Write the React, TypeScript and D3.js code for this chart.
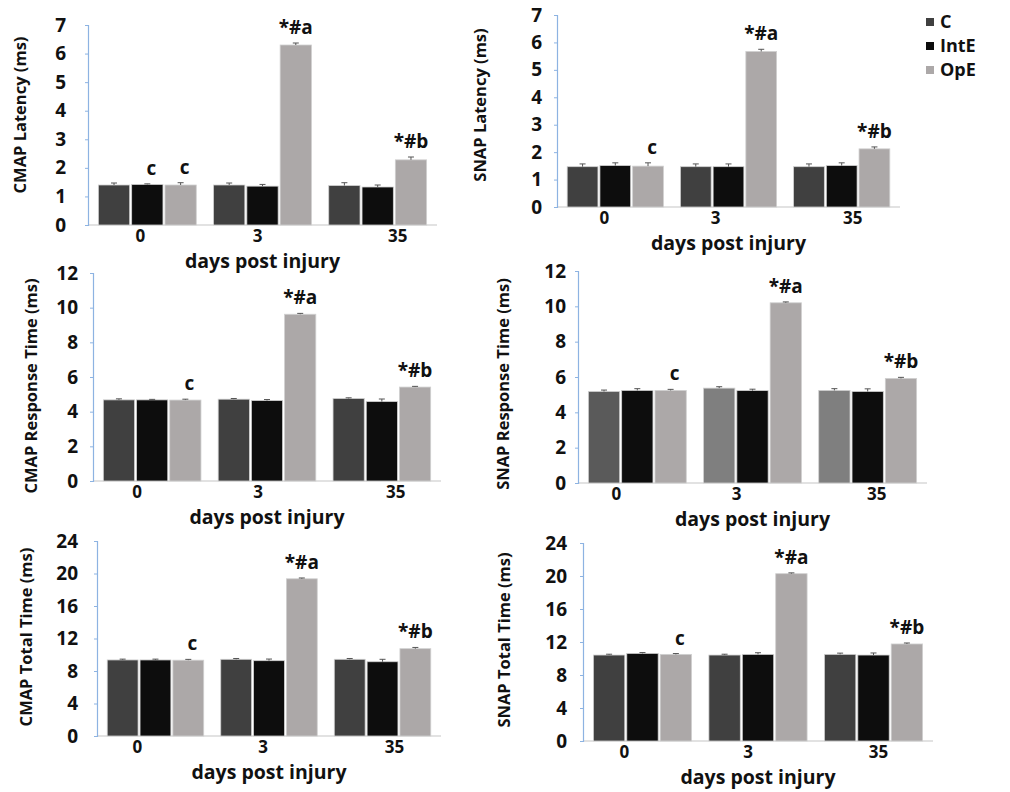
import React, { useRef, useEffect } from "react";
import * as d3 from "d3";

const days = ["0", "3", "35"];
const groups = ["C", "IntE", "OpE"];

// rows = C, IntE, OpE ; columns = day 0, 3, 35
const cmapLatency = [[1.40, 1.40, 1.38], [1.42, 1.36, 1.33], [1.40, 6.30, 2.28]];
const cmapLatencyErr = [[0.07, 0.07, 0.1], [0.02, 0.06, 0.07], [0.08, 0.07, 0.1]];
const snapLatency = [[1.47, 1.47, 1.47], [1.51, 1.47, 1.51], [1.49, 5.67, 2.12]];
const snapLatencyErr = [[0.1, 0.1, 0.1], [0.1, 0.1, 0.1], [0.12, 0.08, 0.07]];
const cmapResponse = [[4.68, 4.72, 4.76], [4.68, 4.64, 4.58], [4.67, 9.62, 5.42]];
const cmapResponseErr = [[0.06, 0.04, 0.04], [0.03, 0.06, 0.15], [0.05, 0.05, 0.04]];
const snapResponse = [[5.18, 5.37, 5.24], [5.24, 5.23, 5.18], [5.24, 10.2, 5.92]];
const snapResponseErr = [[0.08, 0.08, 0.1], [0.1, 0.08, 0.15], [0.06, 0.05, 0.06]];
const cmapTotal = [[9.36, 9.44, 9.44], [9.36, 9.27, 9.14], [9.33, 19.35, 10.75]];
const cmapTotalErr = [[0.1, 0.1, 0.1], [0.1, 0.2, 0.3], [0.1, 0.1, 0.15]];
const snapTotal = [[10.42, 10.42, 10.5], [10.62, 10.5, 10.42], [10.5, 20.28, 11.76]];
const snapTotalErr = [[0.1, 0.1, 0.15], [0.1, 0.2, 0.25], [0.1, 0.1, 0.12]];

const latencyTicks = [0, 1, 2, 3, 4, 5, 6, 7];
const responseTicks = [0, 2, 4, 6, 8, 10, 12];
const totalTicks = [0, 4, 8, 12, 16, 20, 24];

// significance letters: [day, group, text]
const cmapLatencyMarks = [["0", "IntE", "c"], ["0", "OpE", "c"], ["3", "OpE", "*#a"], ["35", "OpE", "*#b"]];
const commonMarks = [["0", "OpE", "c"], ["3", "OpE", "*#a"], ["35", "OpE", "*#b"]];

const fills = { C: "#404040", IntE: "#0d0d0d", OpE: "#aca8a8" };
const font = "'Open Sans', 'DejaVu Sans', sans-serif";
const ink = "#111";

const panels = [
  { title: "CMAP Latency (ms)", means: cmapLatency, errs: cmapLatencyErr, ticks: latencyTicks, marks: cmapLatencyMarks,
    ax: 88, top: 25, bottom: 225, right: 437, pad: 19, tx: 20, ty: 115, catDx: [-7, -5, 20] },
  { title: "SNAP Latency (ms)", means: snapLatency, errs: snapLatencyErr, ticks: latencyTicks, marks: commonMarks,
    ax: 557, top: 15, bottom: 207, right: 900, pad: 12, tx: 480, ty: 105, catDx: [-11, -13, 11], legend: true },
  { title: "CMAP Response Time (ms)", means: cmapResponse, errs: cmapResponseErr, ticks: responseTicks, marks: commonMarks,
    ax: 93, top: 273, bottom: 481, right: 441, pad: 12, tx: 31, ty: 386, catDx: [-15, -9, 14] },
  { title: "SNAP Response Time (ms)", means: snapResponse, errs: snapResponseErr, ticks: responseTicks, marks: commonMarks,
    ax: 578, top: 271, bottom: 483, right: 927, pad: 9, tx: 503, ty: 384, catDx: [-21, -16, 9],
    cFill: ["#5a5a5a", "#7f7f7f", "#7f7f7f"] },
  { title: "CMAP Total Time (ms)", means: cmapTotal, errs: cmapTotalErr, ticks: totalTicks, marks: commonMarks,
    ax: 97, top: 541, bottom: 736, right: 441, pad: 16, tx: 26, ty: 637, catDx: [-18, -6, 12] },
  { title: "SNAP Total Time (ms)", means: snapTotal, errs: snapTotalErr, ticks: totalTicks, marks: commonMarks,
    ax: 583, top: 543, bottom: 741, right: 933, pad: 13, tx: 504, ty: 640, catDx: [-18, -10, 5] },
];

export default function App() {
  const ref = useRef<SVGSVGElement>(null);

  useEffect(() => {
    const svg = d3.select(ref.current);
    svg.selectAll("*").remove();

    panels.forEach((p: any) => {
      const y = d3.scaleLinear().domain([0, d3.max(p.ticks) as number]).range([p.bottom, p.top]);
      const x0 = d3.scaleBand().domain(days).range([p.ax, p.right]).paddingInner(0.15).paddingOuter(0.09);
      const x1 = d3.scaleBand().domain(groups).range([0, x0.bandwidth()]).paddingInner(0.06);
      const g = svg.append("g");

      // baseline
      g.append("line")
        .attr("x1", p.ax).attr("x2", p.right)
        .attr("y1", y(0)).attr("y2", y(0))
        .attr("stroke", "#d9d9d9").attr("stroke-width", 1.5);

      const cells = groups.flatMap((grp, gi) =>
        days.map((day, di) => ({ grp, day, di, v: p.means[gi][di], e: p.errs[gi][di] }))
      );

      // bars
      g.selectAll(".bar")
        .data(cells)
        .enter()
        .append("rect")
        .attr("x", d => (x0(d.day) as number) + (x1(d.grp) as number))
        .attr("y", d => y(d.v))
        .attr("width", x1.bandwidth())
        .attr("height", d => y(0) - y(d.v))
        .attr("fill", d => (d.grp === "C" && p.cFill ? p.cFill[d.di] : (fills as any)[d.grp]))
        .attr("stroke", "#d0d0d0")
        .attr("stroke-width", 0.8);

      // error bars
      const cx = (d: any) => (x0(d.day) as number) + (x1(d.grp) as number) + x1.bandwidth() / 2;
      g.selectAll(".err")
        .data(cells)
        .enter()
        .append("path")
        .attr("d", d => `M${cx(d) - 3},${y(d.v + d.e)}H${cx(d) + 3}M${cx(d)},${y(d.v + d.e)}V${y(d.v)}`)
        .attr("stroke", "#555")
        .attr("stroke-width", 1)
        .attr("fill", "none");

      // significance labels
      g.selectAll(".mark")
        .data(p.marks)
        .enter()
        .append("text")
        .attr("x", (m: any) => (x0(m[0]) as number) + (x1(m[1]) as number) + x1.bandwidth() / 2 + (m[2] === "c" ? 4 : 0))
        .attr("y", (m: any) => {
          const gi = groups.indexOf(m[1]);
          const di = days.indexOf(m[0]);
          return y(p.means[gi][di] + p.errs[gi][di]) - 9;
        })
        .attr("text-anchor", "middle")
        .attr("font-family", font)
        .attr("font-weight", 700)
        .attr("font-size", 19)
        .attr("fill", ink)
        .text((m: any) => m[2]);

      // y axis
      const axis = g.append("g")
        .attr("transform", `translate(${p.ax},0)`)
        .call(
          d3.axisLeft(y)
            .tickValues(p.ticks)
            .tickFormat(d3.format("d") as any)
            .tickSize(3)
            .tickSizeOuter(3)
            .tickPadding(p.pad)
        );
      axis.select(".domain").attr("stroke", "#8db3e2").attr("stroke-width", 1.2);
      axis.selectAll(".tick line").attr("stroke", "#8db3e2");
      axis.selectAll("text")
        .style("fill", ink)
        .style("font-family", font)
        .style("font-weight", "700")
        .style("font-size", "19px");

      // y title
      g.append("text")
        .attr("transform", `translate(${p.tx},${p.ty}) rotate(-90)`)
        .attr("text-anchor", "middle")
        .attr("dy", "0.35em")
        .attr("font-family", font)
        .attr("font-weight", 700)
        .attr("font-size", 16.5)
        .attr("fill", ink)
        .text(p.title);

      // category labels
      g.selectAll(".cat")
        .data(days)
        .enter()
        .append("text")
        .attr("x", (d, i) => (x0(d) as number) + x0.bandwidth() / 2 + p.catDx[i])
        .attr("y", y(0) + 17)
        .attr("text-anchor", "middle")
        .attr("font-family", font)
        .attr("font-weight", 700)
        .attr("font-size", 17)
        .attr("fill", ink)
        .text(d => d);

      g.append("text")
        .attr("x", (p.ax + p.right) / 2)
        .attr("y", y(0) + 43)
        .attr("text-anchor", "middle")
        .attr("font-family", font)
        .attr("font-weight", 700)
        .attr("font-size", 19.5)
        .attr("fill", ink)
        .text("days post injury");

      if (p.legend) {
        const lg = g.append("g").attr("transform", "translate(926,0)");
        groups.forEach((grp, i) => {
          lg.append("rect")
            .attr("x", 0).attr("y", 18 + i * 24)
            .attr("width", 8).attr("height", 8)
            .attr("fill", (fills as any)[grp]);
          lg.append("text")
            .attr("x", 14).attr("y", 22 + i * 24)
            .attr("dy", "0.35em")
            .attr("font-family", font)
            .attr("font-weight", 700)
            .attr("font-size", 18)
            .attr("fill", ink)
            .text(grp);
        });
      }
    });
  }, []);

  return (
    <svg
      ref={ref}
      width={1010}
      height={792}
      style={{ position: "absolute", left: 0, top: 0, background: "#fff" }}
    ></svg>
  );
}
